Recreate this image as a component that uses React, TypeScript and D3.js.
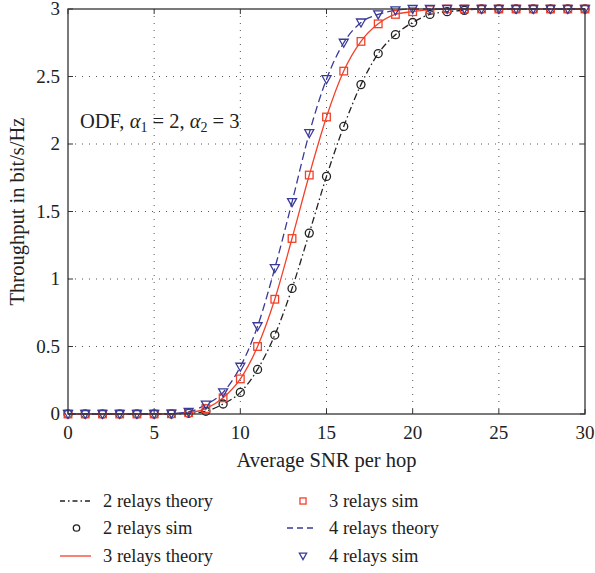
import React, { useEffect, useRef } from 'react';
import * as d3 from 'd3';

// SNR in dB per hop
const snr = d3.range(0, 31);

// throughput (bit/s/Hz)
const relays2 = [0, 0, 0, 0, 0, 0, 0, 0.005, 0.02, 0.074, 0.16, 0.33, 0.585, 0.93, 1.34, 1.76, 2.13, 2.44, 2.67, 2.81, 2.9, 2.96, 2.98, 2.99, 3, 3, 3, 3, 3, 3, 3];
const relays3 = [0, 0, 0, 0, 0, 0, 0.002, 0.01, 0.04, 0.12, 0.26, 0.5, 0.85, 1.3, 1.77, 2.2, 2.54, 2.76, 2.89, 2.96, 2.98, 2.995, 3, 3, 3, 3, 3, 3, 3, 3, 3];
const relays4 = [0, 0, 0, 0, 0, 0, 0.003, 0.015, 0.07, 0.16, 0.35, 0.65, 1.08, 1.57, 2.08, 2.48, 2.75, 2.9, 2.96, 2.99, 3, 3, 3, 3, 3, 3, 3, 3, 3, 3, 3];

const xTicks = [0, 5, 10, 15, 20, 25, 30];
const yTicks = [0, 0.5, 1, 1.5, 2, 2.5, 3];

const BLACK = '#222';
const RED = '#f2412a';
const BLUE = '#3a3a98';
const FONT = '"Liberation Serif", "DejaVu Serif", serif';

const Chart = () => {
    const svgRef = useRef(null);

    useEffect(() => {
        const svg = d3.select(svgRef.current);
        svg.selectAll('*').remove();

        const left = 68, right = 585, top = 9, bottom = 414;
        const x = d3.scaleLinear().domain([0, 30]).range([left, right]);
        const y = d3.scaleLinear().domain([0, 3]).range([bottom, top]);

        // grid
        const grid = svg.append('g');
        xTicks.slice(1, -1).forEach(t => {
            grid.append('line')
                .attr('x1', x(t)).attr('x2', x(t)).attr('y1', top).attr('y2', bottom)
                .attr('stroke', '#555').attr('stroke-width', 1).attr('stroke-dasharray', '1,6');
        });
        yTicks.slice(1, -1).forEach(t => {
            grid.append('line')
                .attr('x1', left).attr('x2', right).attr('y1', y(t)).attr('y2', y(t))
                .attr('stroke', '#555').attr('stroke-width', 1).attr('stroke-dasharray', '1,6');
        });

        // inward tick marks on all four sides
        const ticks = svg.append('g').attr('stroke', '#333').attr('stroke-width', 1);
        xTicks.forEach(t => {
            ticks.append('line').attr('x1', x(t)).attr('x2', x(t)).attr('y1', bottom).attr('y2', bottom - 5);
            ticks.append('line').attr('x1', x(t)).attr('x2', x(t)).attr('y1', top).attr('y2', top + 5);
        });
        yTicks.forEach(t => {
            ticks.append('line').attr('x1', left).attr('x2', left + 5).attr('y1', y(t)).attr('y2', y(t));
            ticks.append('line').attr('x1', right).attr('x2', right - 5).attr('y1', y(t)).attr('y2', y(t));
        });

        // tick labels
        svg.append('g').selectAll('text').data(xTicks).enter().append('text')
            .attr('x', d => x(d)).attr('y', bottom + 25)
            .attr('text-anchor', 'middle').attr('font-family', FONT).attr('font-size', 19).attr('fill', '#222')
            .text(d => d);
        svg.append('g').selectAll('text').data(yTicks).enter().append('text')
            .attr('x', left - 8).attr('y', d => y(d) + 6)
            .attr('text-anchor', 'end').attr('font-family', FONT).attr('font-size', 19).attr('fill', '#222')
            .text(d => d);

        // axis titles
        svg.append('text')
            .attr('x', (left + right) / 2).attr('y', 467)
            .attr('text-anchor', 'middle').attr('font-family', FONT).attr('font-size', 20.5).attr('fill', '#222')
            .text('Average SNR per hop');
        svg.append('text')
            .attr('transform', `translate(24,${(top + bottom) / 2}) rotate(-90)`)
            .attr('text-anchor', 'middle').attr('font-family', FONT).attr('font-size', 20.5).attr('fill', '#222')
            .text('Throughput in bit/s/Hz');

        // annotation
        const ann = svg.append('text')
            .attr('x', 80).attr('y', 128)
            .attr('font-family', FONT).attr('font-size', 20.5).attr('fill', '#222');
        ann.append('tspan').text('ODF, ');
        ann.append('tspan').attr('font-style', 'italic').text('α');
        ann.append('tspan').attr('font-size', 14).attr('dy', 4).text('1');
        ann.append('tspan').attr('dy', -4).text(' = 2, ');
        ann.append('tspan').attr('font-style', 'italic').text('α');
        ann.append('tspan').attr('font-size', 14).attr('dy', 4).text('2');
        ann.append('tspan').attr('dy', -4).text(' = 3');

        const line = d3.line()
            .x((d, i) => x(snr[i]))
            .y(d => y(d))
            .curve(d3.curveMonotoneX);

        const series = [
            { data: relays2, color: BLACK, dash: '7,3,1.5,3', marker: 'circle' },
            { data: relays3, color: RED, dash: null, marker: 'square' },
            { data: relays4, color: BLUE, dash: '8,4', marker: 'triangle' },
        ];

        const plot = svg.append('g');
        series.forEach(s => {
            plot.append('path')
                .datum(s.data)
                .attr('d', line)
                .attr('fill', 'none')
                .attr('stroke', s.color)
                .attr('stroke-width', 1.3)
                .attr('stroke-dasharray', s.dash);
        });

        const drawMarker = (g, kind, cx, cy, color, k = 1) => {
            if (kind === 'circle') {
                g.append('circle').attr('cx', cx).attr('cy', cy).attr('r', 4 * k)
                    .attr('fill', 'none').attr('stroke', color).attr('stroke-width', 1.3);
            } else if (kind === 'square') {
                const h = 3.8 * k;
                g.append('rect').attr('x', cx - h).attr('y', cy - h).attr('width', 2 * h).attr('height', 2 * h)
                    .attr('fill', 'none').attr('stroke', color).attr('stroke-width', 1.3);
            } else {
                g.append('path').attr('d', `M${cx - 4.5 * k},${cy - 3.5 * k}L${cx + 4.5 * k},${cy - 3.5 * k}L${cx},${cy + 4.5 * k}Z`)
                    .attr('fill', 'none').attr('stroke', color).attr('stroke-width', 1.3);
            }
        };

        series.forEach(s => {
            const g = plot.append('g');
            s.data.forEach((v, i) => drawMarker(g, s.marker, x(snr[i]), y(v), s.color));
        });

        // frame
        svg.append('rect')
            .attr('x', left).attr('y', top).attr('width', right - left).attr('height', bottom - top)
            .attr('fill', 'none').attr('stroke', '#333').attr('stroke-width', 1.3);

        // legend
        const legend = [
            { label: '2 relays theory', kind: 'line', color: BLACK, dash: '5,3,1.5,3', col: 0, row: 0 },
            { label: '2 relays sim', kind: 'circle', color: BLACK, col: 0, row: 1 },
            { label: '3 relays theory', kind: 'line', color: RED, dash: null, col: 0, row: 2 },
            { label: '3 relays sim', kind: 'square', color: RED, col: 1, row: 0 },
            { label: '4 relays theory', kind: 'line', color: BLUE, dash: '6,4', col: 1, row: 1 },
            { label: '4 relays sim', kind: 'triangle', color: BLUE, col: 1, row: 2 },
        ];
        const colX = [[60, 91, 103], [287, 317, 329]];
        const rowY = [501, 528, 556];
        const lg = svg.append('g');
        legend.forEach(d => {
            const [x0, x1, tx] = colX[d.col];
            const cy = rowY[d.row];
            if (d.kind === 'line') {
                lg.append('line').attr('x1', x0).attr('x2', x1).attr('y1', cy).attr('y2', cy)
                    .attr('stroke', d.color).attr('stroke-width', 1.3).attr('stroke-dasharray', d.dash);
            } else {
                drawMarker(lg, d.kind, (x0 + x1) / 2 + 1, cy, d.color, 0.8);
            }
            lg.append('text').attr('x', tx).attr('y', cy + 6)
                .attr('font-family', FONT).attr('font-size', 18.5).attr('fill', '#222')
                .text(d.label);
        });
    }, []);

    return <svg ref={svgRef} width={595} height={573} style={{ position: 'absolute', left: 0, top: 0, background: '#fff' }}></svg>;
};

export default function App() {
    return <Chart />;
}
